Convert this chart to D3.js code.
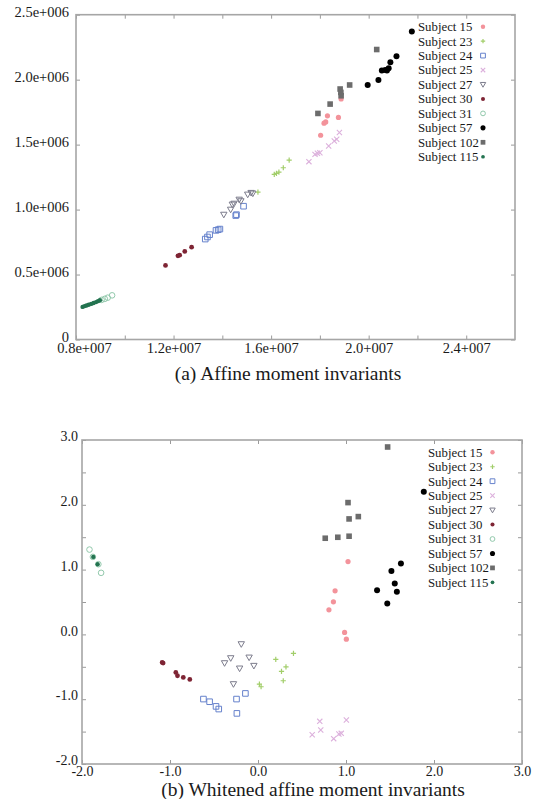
<!DOCTYPE html>
<html><head><meta charset="utf-8">
<script src="https://cdn.jsdelivr.net/npm/d3@7"></script>
<style>
body{margin:0;background:#fff}
svg{display:block}
text{font-family:"Liberation Serif","Times New Roman",serif;fill:#1a1a1a}
</style>
</head><body>
<svg id="c" width="534" height="799"></svg>
<script>
// ---------------- data ----------------
const subjects = ["Subject 15","Subject 23","Subject 24","Subject 25","Subject 27","Subject 30","Subject 31","Subject 57","Subject 102","Subject 115"];

// (a) Affine moment invariants  [x, y]
const a15  = [[1.803e7,1.572e6],[1.817e7,1.665e6],[1.824e7,1.675e6],[1.831e7,1.722e6],[1.876e7,1.709e6],[1.887e7,1.851e6]];
const a23  = [[1.546e7,1.134e6],[1.613e7,1.271e6],[1.622e7,1.278e6],[1.632e7,1.289e6],[1.650e7,1.322e6],[1.674e7,1.381e6]];
const a24  = [[1.330e7,0.773e6],[1.339e7,0.789e6],[1.348e7,0.807e6],[1.374e7,0.840e6],[1.383e7,0.845e6],[1.390e7,0.850e6],[1.455e7,0.954e6],[1.458e7,0.961e6],[1.487e7,1.026e6]];
const a25  = [[1.755e7,1.369e6],[1.780e7,1.425e6],[1.790e7,1.433e6],[1.800e7,1.438e6],[1.836e7,1.490e6],[1.859e7,1.528e6],[1.869e7,1.541e6],[1.880e7,1.593e6]];
const a27  = [[1.406e7,0.961e6],[1.434e7,1.000e6],[1.441e7,1.039e6],[1.448e7,1.046e6],[1.469e7,1.077e6],[1.476e7,1.065e6],[1.504e7,1.116e6],[1.518e7,1.129e6],[1.525e7,1.124e6]];
const a30  = [[1.167e7,0.570e6],[1.218e7,0.644e6],[1.225e7,0.649e6],[1.246e7,0.678e6],[1.274e7,0.711e6]];
const a31  = [[0.905e7,0.305e6],[0.918e7,0.313e6],[0.930e7,0.322e6],[0.948e7,0.340e6]];
const a57  = [[1.996e7,1.959e6],[2.040e7,1.997e6],[2.054e7,2.070e6],[2.068e7,2.075e6],[2.075e7,2.070e6],[2.082e7,2.088e6],[2.089e7,2.134e6],[2.114e7,2.180e6],[2.177e7,2.371e6]];
const a102 = [[1.792e7,1.740e6],[1.842e7,1.812e6],[1.883e7,1.928e6],[1.886e7,1.902e6],[1.887e7,1.876e6],[1.922e7,1.959e6],[2.033e7,2.232e6]];
const a115 = [[0.827e7,0.251e6],[0.835e7,0.257e6],[0.843e7,0.262e6],[0.852e7,0.268e6],[0.862e7,0.274e6],[0.872e7,0.281e6],[0.882e7,0.288e6],[0.890e7,0.295e6],[0.898e7,0.302e6]];

// (b) Whitened affine moment invariants  [x, y]
const b15  = [[1.023,1.124],[0.876,0.672],[0.857,0.503],[0.806,0.379],[0.984,0.030],[1.004,-0.073]];
const b23  = [[0.016,-0.767],[0.035,-0.808],[0.202,-0.386],[0.267,-0.571],[0.318,-0.500],[0.287,-0.715],[0.403,-0.294]];
const b24  = [[-0.620,-0.998],[-0.550,-1.039],[-0.477,-1.111],[-0.446,-1.152],[-0.244,-0.998],[-0.240,-1.219],[-0.143,-0.911]];
const b25  = [[0.702,-1.342],[0.713,-1.476],[0.616,-1.548],[0.860,-1.609],[0.919,-1.538],[0.946,-1.527],[1.004,-1.322]];
const b27  = [[-0.190,-0.150],[-0.380,-0.443],[-0.310,-0.366],[-0.101,-0.356],[-0.209,-0.525],[-0.047,-0.484],[-0.279,-0.767]];
const b30  = [[-1.089,-0.433],[-1.078,-0.443],[-0.934,-0.587],[-0.915,-0.638],[-0.849,-0.664],[-0.775,-0.695]];
const b31  = [[-1.915,1.309],[-1.876,1.196],[-1.814,1.083],[-1.783,0.950]];
const b57  = [[1.884,2.203],[1.624,1.094],[1.516,0.980],[1.554,0.785],[1.353,0.682],[1.578,0.657],[1.469,0.477]];
const b102 = [[1.473,2.892],[1.023,2.034],[1.035,1.782],[1.140,1.818],[0.764,1.484],[0.907,1.499],[1.035,1.515]];
const b115 = [[-1.872,1.196],[-1.822,1.083]];

// ticks
const aXTicks = [0.8e7,1.2e7,1.6e7,2.0e7,2.4e7];
const aXTickLabels = ["0.8e+007","1.2e+007","1.6e+007","2.0+007","2.4+007"];
const aXMinor = [0.8e7,1.0e7,1.2e7,1.4e7,1.6e7,1.8e7,2.0e7,2.2e7,2.4e7];
const aYTicks = [0,0.5e6,1.0e6,1.5e6,2.0e6,2.5e6];
const aYTickLabels = ["0","0.5e+006","1.0e+006","1.5e+006","2.0e+006","2.5e+006"];
const bXTicks = [-2,-1,0,1,2,3];
const bXTickLabels = ["-2.0","-1.0","0.0","1.0","2.0","3.0"];
const bYTicks = [-2,-1,0,1,2,3];
const bYTickLabels = ["-2.0","-1.0","0.0","1.0","2.0","3.0"];
const bYMinor = [-2,-1.5,-1,-0.5,0,0.5,1,1.5,2,2.5,3];

// ---------------- styles ----------------
const styles = [
  {shape:"circle", s:2.6, fill:"#f3939b", stroke:"none"},
  {shape:"plus",   s:2.6, fill:"none", stroke:"#a2ce6a", sw:1.2},
  {shape:"square", s:2.8, fill:"none", stroke:"#6682cc", sw:1},
  {shape:"x",      s:2.6, fill:"none", stroke:"#dcb0dc", sw:1.1},
  {shape:"tri",    s:3.2, fill:"none", stroke:"#7c7c8c", sw:1},
  {shape:"circle", s:2.4, fill:"#7e2434", stroke:"none"},
  {shape:"circle", s:2.8, fill:"none", stroke:"#92c9ac", sw:1},
  {shape:"circle", s:3.0, fill:"#000", stroke:"none"},
  {shape:"square", s:2.8, fill:"#6c6c6c", stroke:"none"},
  {shape:"circle", s:2.2, fill:"#237350", stroke:"none"}
];
function shapePath(shape, h){
  switch(shape){
    case "circle": { const p=d3.path(); p.arc(0,0,h,0,2*Math.PI); return p.toString(); }
    case "square": return `M${-h},${-h}h${2*h}v${2*h}h${-2*h}Z`;
    case "tri": return `M${-h},${-h*0.75}L${h},${-h*0.75}L0,${h}Z`;
    case "plus": return `M${-h},0H${h}M0,${-h}V${h}`;
    case "x": return `M${-h},${-h}L${h},${h}M${-h},${h}L${h},${-h}`;
  }
}

const svg = d3.select("#c");

function chart(cfg){
  const {x, y, series, xTicks, xLabels, xMinor, yTicks, yLabels, yMinor, fsTick, yPad, xPad, yDy, legendX, legendMarkX, legendY0, title, titleX, titleY, firstXdx} = cfg;
  const g = svg.append("g");
  const [x0,x1] = x.range(), [y0,y1] = y.range();
  const tickStyle = sel => {
    sel.attr("font-family",null).attr("font-size",null);
    sel.select(".domain").remove();
    sel.selectAll(".tick line").attr("stroke","#9a9a9a").attr("stroke-width",1);
    sel.selectAll("text").attr("font-size",fsTick).attr("fill","#1a1a1a");
  };

  // unlabelled ticks on all four sides
  g.append("g").attr("transform",`translate(0,${y0})`).call(d3.axisBottom(x).tickValues(xMinor).tickSizeInner(-4).tickSizeOuter(0).tickFormat("")).call(tickStyle);
  g.append("g").attr("transform",`translate(0,${y1})`).call(d3.axisTop(x).tickValues(xMinor).tickSizeInner(-4).tickSizeOuter(0).tickFormat("")).call(tickStyle);
  g.append("g").attr("transform",`translate(${x0},0)`).call(d3.axisLeft(y).tickValues(yMinor).tickSizeInner(-4).tickSizeOuter(0).tickFormat("")).call(tickStyle);
  g.append("g").attr("transform",`translate(${x1},0)`).call(d3.axisRight(y).tickValues(yMinor).tickSizeInner(-4).tickSizeOuter(0).tickFormat("")).call(tickStyle);

  // labelled axes
  const xa = g.append("g").attr("transform",`translate(0,${y0})`)
    .call(d3.axisBottom(x).tickValues(xTicks).tickSizeInner(0).tickSizeOuter(0).tickPadding(xPad).tickFormat((d,i)=>xLabels[i])).call(tickStyle);
  if(firstXdx) xa.select(".tick text").attr("dx", firstXdx);
  g.append("g").attr("transform",`translate(${x0},0)`)
    .call(d3.axisLeft(y).tickValues(yTicks).tickSizeInner(0).tickSizeOuter(0).tickPadding(yPad).tickFormat((d,i)=>yLabels[i])).call(tickStyle)
    .selectAll("text").attr("dy",yDy);

  // frame
  g.append("rect").attr("x",x0).attr("y",y1).attr("width",x1-x0).attr("height",y0-y1)
    .attr("fill","none").attr("stroke","#a6a6a6").attr("stroke-width",1.6);

  // points
  series.forEach((pts,i)=>{
    const st = styles[i];
    g.append("g").selectAll("path").data(pts).join("path")
      .attr("transform",d=>`translate(${x(d[0])},${y(d[1])})`)
      .attr("d",shapePath(st.shape, st.s))
      .attr("fill",st.fill).attr("stroke",st.stroke).attr("stroke-width",st.sw||0);
  });

  // legend
  const lg = g.append("g").selectAll("g").data(subjects).join("g")
    .attr("transform",(d,i)=>`translate(0,${legendY0 + i*14.45})`);
  lg.append("text").attr("x",legendX).attr("dy","0.34em").attr("font-size",12.8).text(d=>d);
  lg.append("path").attr("transform",`translate(${legendMarkX},0)`)
    .attr("d",(d,i)=>shapePath(styles[i].shape, styles[i].s*0.85))
    .attr("fill",(d,i)=>styles[i].fill).attr("stroke",(d,i)=>styles[i].stroke).attr("stroke-width",(d,i)=>styles[i].sw||0);

  // caption
  g.append("text").attr("x",titleX).attr("y",titleY).attr("text-anchor","middle").attr("font-size",19.5).text(title);
}

chart({
  x: d3.scaleLinear([0.8e7,2.6e7],[76,515]),
  y: d3.scaleLinear([0,2.5e6],[339.5,14.7]),
  series:[a15,a23,a24,a25,a27,a30,a31,a57,a102,a115],
  xTicks:aXTicks, xLabels:aXTickLabels, xMinor:aXMinor,
  yTicks:aYTicks, yLabels:aYTickLabels, yMinor:aYTicks,
  fsTick:14.5, yPad:7, xPad:3.5, yDy:"0.12em", firstXdx:8,
  legendX:418, legendMarkX:483, legendY0:26.7,
  title:"(a) Affine moment invariants", titleX:288, titleY:379.5
});

chart({
  x: d3.scaleLinear([-2,3],[82,522]),
  y: d3.scaleLinear([-2,3],[764,440]),
  series:[b15,b23,b24,b25,b27,b30,b31,b57,b102,b115],
  xTicks:bXTicks, xLabels:bXTickLabels, xMinor:bXTicks,
  yTicks:bYTicks, yLabels:bYTickLabels, yMinor:bYMinor,
  fsTick:14, yPad:4, xPad:2.5, yDy:"0.05em",
  legendX:428, legendMarkX:492.5, legendY0:452.3,
  title:"(b) Whitened affine moment invariants", titleX:313, titleY:796
});
</script>
</body></html>
